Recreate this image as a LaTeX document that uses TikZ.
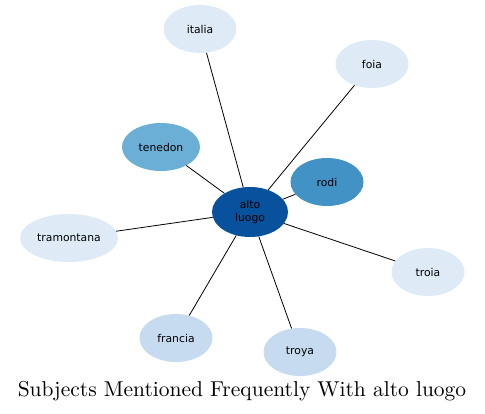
\documentclass[tikz,border=0pt]{standalone}
\usepackage{fontspec}
\usepackage{tikz}
\usetikzlibrary{
  shapes.geometric
}
\newfontfamily\nodefont{DejaVu Sans}
\definecolor{hubfill}{RGB}{8,81,156}
\definecolor{strongfill}{RGB}{66,146,198}
\definecolor{midfill}{RGB}{107,174,214}
\definecolor{lowfill}{RGB}{198,219,239}
\definecolor{faintfill}{RGB}{222,235,247}
\tikzset{
  topicnode/.style={
    ellipse, draw=none, inner sep=0pt,
    minimum width=73pt, minimum height=48pt,
    font=\nodefont\fontsize{10.8}{12.2}\selectfont, align=center
  },
  hubnode/.style={
    topicnode, fill=hubfill, minimum width=76pt, minimum height=50pt
  },
  linkline/.style={
    draw=black, line width=0.8pt
  }
}
\begin{document}
\begin{tikzpicture}[x=1pt, y=-1pt]
    \useasboundingbox[fill=white] (0,0) rectangle (485,413);

    % outer ring
    \node[topicnode, fill=faintfill] (italia) at (200,29) {italia};
    \node[topicnode, fill=faintfill] (foia) at (372,64) {foia};
    \node[topicnode, fill=midfill, minimum width=78pt] (tenedon) at (161,147) {tenedon};
    \node[topicnode, fill=strongfill] (rodi) at (327,182) {rodi};
    \node[topicnode, fill=faintfill, minimum width=98pt] (tramontana) at (69,238) {tramontana};
    \node[topicnode, fill=faintfill] (troia) at (428,272) {troia};
    \node[topicnode, fill=lowfill] (francia) at (176,338) {francia};
    \node[topicnode, fill=lowfill] (troya) at (300,352) {troya};

    % centre
    \node[hubnode] (alto) at (250,212) {alto\\luogo};

    \foreach \n in {italia,foia,tenedon,rodi,tramontana,troia,francia,troya}
      \draw[linkline] (alto) -- (\n);

    \node[inner sep=0pt] (title) at (242,391) {\scalebox{2.15}{\fontsize{10}{12}\selectfont Subjects Mentioned Frequently With alto luogo}};

  \end{tikzpicture}
\end{document}
